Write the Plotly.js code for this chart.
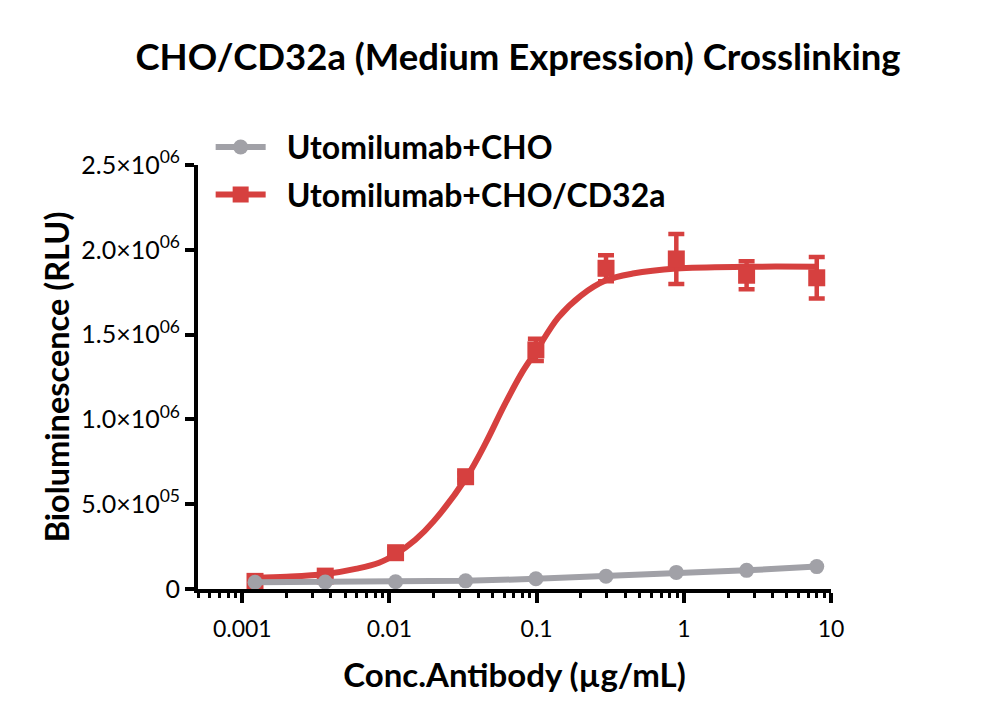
<!DOCTYPE html>
<html>
<head>
<meta charset="utf-8">
<script src="https://cdn.plot.ly/plotly-3.0.1.min.js"></script>
<style>
  html, body { margin: 0; padding: 0; background: #ffffff; }
  #chart { width: 1000px; height: 724px; }
</style>
</head>
<body>
<div id="chart"></div>
<script>
// ---- data ----
const conc = [0.00122, 0.00366, 0.011, 0.0329, 0.0988, 0.296, 0.889, 2.67, 8];
const choValues = [40000, 41000, 43000, 48000, 60000, 75000, 98000, 110000, 132000];
const cd32aValues = [45000, 76000, 214000, 662000, 1410000, 1891000, 1946000, 1850000, 1835000];
const cd32aErrors = [10000, 10000, 20000, 20000, 65000, 77000, 147000, 83000, 122000];

// fitted curve as drawn in the reference
const fitConc = [0.00122, 0.002, 0.00366, 0.006, 0.0085, 0.011, 0.015, 0.02, 0.0329, 0.045, 0.06, 0.08, 0.0988, 0.14, 0.2, 0.296, 0.45, 0.889, 2.67, 8];
const fitValues = [66000, 72000, 88000, 120000, 155000, 205000, 290000, 400000, 650000, 860000, 1080000, 1280000, 1400000, 1600000, 1730000, 1820000, 1860000, 1890000, 1900000, 1900000];

const seriesNames = ['Utomilumab+CHO', 'Utomilumab+CHO/CD32a'];
const xTickVals = [0.001, 0.01, 0.1, 1, 10];
const xTickText = ['0.001', '0.01', '0.1', '1', '10'];
const yTickVals = [0, 500000, 1000000, 1500000, 2000000, 2500000];
const yTickText = ['0', '5.0\u00d710<sup>05</sup>', '1.0\u00d710<sup>06</sup>', '1.5\u00d710<sup>06</sup>', '2.0\u00d710<sup>06</sup>', '2.5\u00d710<sup>06</sup>'];

const titleText = 'CHO/CD32a (Medium Expression) Crosslinking';
const xTitle = 'Conc.Antibody (\u00b5g/mL)';
const yTitle = 'Bioluminescence (RLU)';

const RED = '#d6403f';
const GRAY = '#a1a1a7';
const FONT = 'Lato, "Open Sans", sans-serif';
const GAP = '\u2002'; // spacing between legend symbol and label

const traces = [
  { // fitted curve
    x: fitConc, y: fitValues, type: 'scatter', mode: 'lines',
    line: { color: RED, width: 6, shape: 'spline', smoothing: 1 },
    showlegend: false, hoverinfo: 'skip', legendgroup: 'b'
  },
  { // red data points with error bars
    x: conc, y: cd32aValues, type: 'scatter', mode: 'markers',
    marker: { symbol: 'square', size: 17, color: RED, line: { width: 0 } },
    error_y: { type: 'data', array: cd32aErrors, visible: true, color: RED, thickness: 4.5, width: 8 },
    showlegend: false, legendgroup: 'b', name: seriesNames[1]
  },
  { // gray series
    x: conc, y: choValues, type: 'scatter', mode: 'lines+markers',
    name: GAP + seriesNames[0], legendgroup: 'a',
    line: { color: GRAY, width: 6 },
    marker: { symbol: 'circle', size: 15, color: GRAY }
  },
  { // legend entry for red series
    x: [null], y: [null], type: 'scatter', mode: 'lines+markers',
    name: GAP + seriesNames[1], legendgroup: 'b',
    line: { color: RED, width: 6 },
    marker: { symbol: 'square', size: 16, color: RED }
  }
];

const layout = {
  width: 1000, height: 724,
  paper_bgcolor: '#ffffff', plot_bgcolor: '#ffffff',
  margin: { l: 198, r: 169, t: 165, b: 135 },
  font: { family: FONT, color: '#000000' },
  title: {
    text: '<b>' + titleText + '</b>',
    font: { family: FONT, size: 36.5, color: '#000000' },
    x: 0.518, xref: 'container', xanchor: 'center',
    y: 1 - 57 / 724, yref: 'container', yanchor: 'middle'
  },
  showlegend: true,
  legend: {
    x: 0.02, xanchor: 'left', y: 1.107, yanchor: 'top',
    bgcolor: 'rgba(0,0,0,0)', borderwidth: 0,
    font: { family: FONT, size: 32, color: '#000000', weight: 'bold' },
    traceorder: 'grouped', tracegroupgap: 3, itemwidth: 50
  },
  xaxis: {
    type: 'log', range: [Math.log10(0.0005), 1],
    showline: true, linecolor: '#000000', linewidth: 4,
    showgrid: false, zeroline: false,
    ticks: 'outside', ticklen: 10, tickwidth: 4, tickcolor: '#000000',
    tickvals: xTickVals, ticktext: xTickText,
    ticklabelstandoff: 6,
    tickfont: { family: FONT, size: 23, color: '#000000' },
    minor: { ticks: 'outside', ticklen: 5, tickwidth: 3, tickcolor: '#000000', dtick: 'D1', showgrid: false },
    title: { text: '<b>' + xTitle + '</b>', font: { family: FONT, size: 33, color: '#000000' }, standoff: 24 }
  },
  yaxis: {
    range: [0, 2500000],
    showline: true, linecolor: '#000000', linewidth: 4,
    showgrid: false, zeroline: false,
    ticks: 'outside', ticklen: 9, tickwidth: 4, tickcolor: '#000000',
    tickvals: yTickVals, ticktext: yTickText,
    tickfont: { family: FONT, size: 25, color: '#000000' },
    title: { text: '<b>' + yTitle + '</b>', font: { family: FONT, size: 32.5, color: '#000000' }, standoff: 3 }
  }
};

Plotly.newPlot('chart', traces, layout, { displayModeBar: false, staticPlot: true });
</script>
</body>
</html>
